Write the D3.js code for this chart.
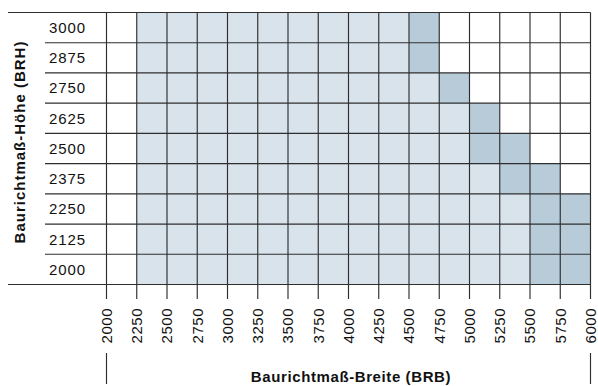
<!DOCTYPE html>
<html>
<head>
<meta charset="utf-8">
<script src="https://cdn.jsdelivr.net/npm/d3@7"></script>
<style>
  html, body { margin: 0; padding: 0; background: #fff; }
  svg { display: block; }
  text { font-family: "Liberation Sans", Arial, Helvetica, sans-serif; fill: #111; }
</style>
</head>
<body>
<svg id="chart" width="598" height="386"></svg>
<script>
// Baurichtmaß heights (rows, top to bottom)
const heights = [3000, 2875, 2750, 2625, 2500, 2375, 2250, 2125, 2000];
// Baurichtmaß width ticks
const widths = [2000, 2250, 2500, 2750, 3000, 3250, 3500, 3750, 4000, 4250, 4500, 4750, 5000, 5250, 5500, 5750, 6000];
// Per height: standard range start/end and extended range end (BRB)
const stdStart = [2250, 2250, 2250, 2250, 2250, 2250, 2250, 2250, 2250];
const stdEnd   = [4500, 4500, 4750, 5000, 5000, 5250, 5500, 5500, 5500];
const extEnd   = [4750, 4750, 5000, 5250, 5500, 5750, 6000, 6000, 6000];

const xTitle = "Baurichtmaß-Breite (BRB)";
const yTitle = "Baurichtmaß-Höhe (BRH)";

const colorStd = "#d9e3ec";
const colorExt = "#b7cbd9";
const lineColor = "#2e2e2e";

const svg = d3.select("#chart");

const x = d3.scaleLinear().domain([2000, 6000]).range([106.5, 590.5]);
const y = d3.scaleBand().domain(heights).range([12.5, 284.5]).padding(0);

// Cells: standard range
svg.append("g").selectAll("rect.std")
  .data(heights)
  .join("rect")
  .attr("class", "std")
  .attr("x", (d, i) => x(stdStart[i]))
  .attr("width", (d, i) => x(stdEnd[i]) - x(stdStart[i]))
  .attr("y", d => y(d))
  .attr("height", y.bandwidth())
  .attr("fill", colorStd);

// Cells: extended range
svg.append("g").selectAll("rect.ext")
  .data(heights)
  .join("rect")
  .attr("class", "ext")
  .attr("x", (d, i) => x(stdEnd[i]))
  .attr("width", (d, i) => x(extEnd[i]) - x(stdEnd[i]))
  .attr("y", d => y(d))
  .attr("height", y.bandwidth())
  .attr("fill", colorExt);

const grid = svg.append("g")
  .attr("stroke", lineColor)
  .attr("stroke-width", 1.15);

// Horizontal row lines; outer lines reach past the label column
const rowEdges = heights.map(h => y(h)).concat([y.range()[1]]);
grid.selectAll("line.h")
  .data(rowEdges)
  .join("line")
  .attr("x1", (d, i) => (i === 0 || i === rowEdges.length - 1) ? 8 : 45)
  .attr("x2", x(6000))
  .attr("y1", d => d)
  .attr("y2", d => d);

// Vertical column lines extending into tick marks
grid.selectAll("line.v")
  .data(widths)
  .join("line")
  .attr("x1", d => x(d))
  .attr("x2", d => x(d))
  .attr("y1", y.range()[0])
  .attr("y2", 299);

// End brackets framing the axis title
grid.selectAll("line.b")
  .data([2000, 6000])
  .join("line")
  .attr("x1", d => x(d))
  .attr("x2", d => x(d))
  .attr("y1", 353)
  .attr("y2", 384);

// Row labels
svg.append("g").selectAll("text")
  .data(heights)
  .join("text")
  .attr("x", 49)
  .attr("y", d => y(d) + y.bandwidth() / 2)
  .attr("dy", "0.36em")
  .style("font-size", "15px")
  .style("letter-spacing", "0.9px")
  .text(d => d);

// Width tick labels, rotated
svg.append("g").selectAll("text")
  .data(widths)
  .join("text")
  .attr("transform", d => `translate(${x(d)},308) rotate(-90)`)
  .attr("text-anchor", "end")
  .attr("dy", "0.36em")
  .style("font-size", "15px")
  .style("letter-spacing", "0.5px")
  .text(d => d);

// Axis titles
svg.append("text")
  .attr("x", 351)
  .attr("y", 382)
  .attr("text-anchor", "middle")
  .style("font-size", "15px")
  .style("font-weight", "bold")
  .style("letter-spacing", "0.6px")
  .text(xTitle);

svg.append("text")
  .attr("transform", "translate(24.5,142) rotate(-90)")
  .attr("text-anchor", "middle")
  .style("font-size", "15px")
  .style("font-weight", "bold")
  .style("letter-spacing", "1.0px")
  .text(yTitle);
</script>
</body>
</html>
